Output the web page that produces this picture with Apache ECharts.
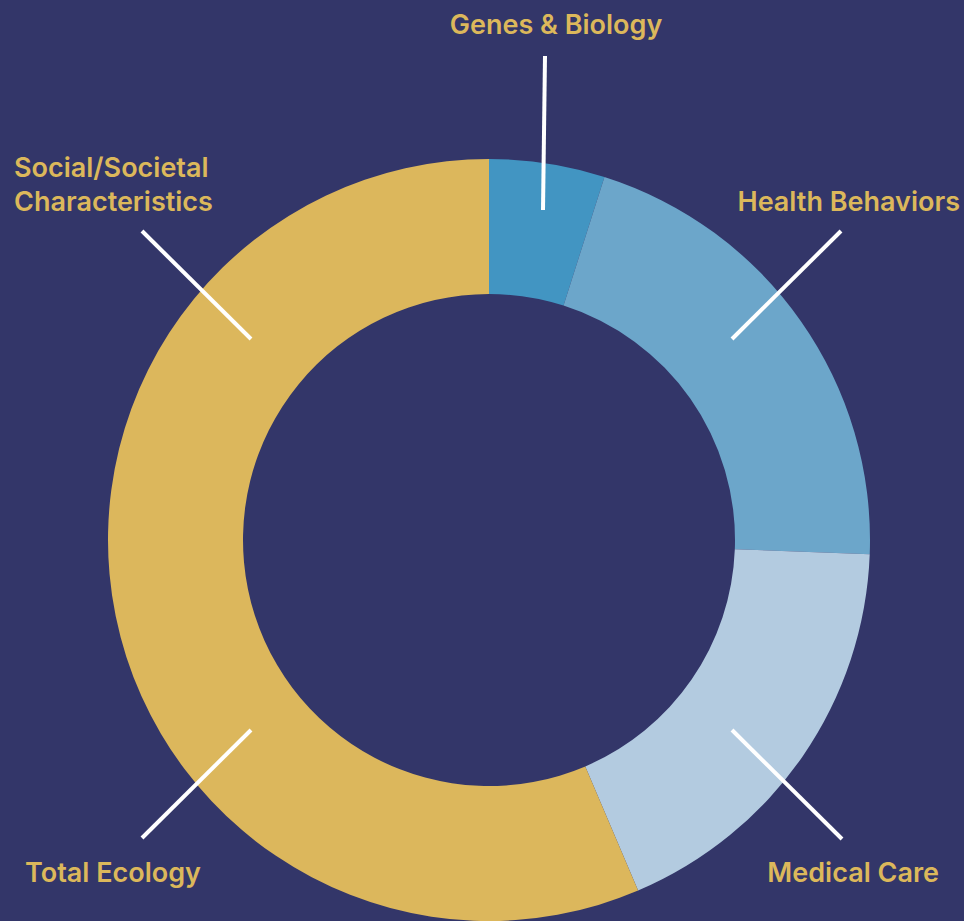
<!DOCTYPE html>
<html>
<head>
<meta charset="utf-8">
<script src="https://cdn.jsdelivr.net/npm/echarts@6/dist/echarts.min.js"></script>
<style>
  html, body { margin: 0; padding: 0; background: #333669; }
  #main { width: 964px; height: 921px; }
</style>
</head>
<body>
<div id="main"></div>
<script>
// slice data, clockwise from 12 o'clock
var categories = ['Genes & Biology', 'Health Behaviors', 'Medical Care', 'Total Ecology'];
var shares = [4.9, 20.7, 18.0, 56.4];
var sliceColors = ['#4295c2', '#6ca6ca', '#b3cbe0', '#dcb75c'];

// callout texts (two of them point at the gold slice)
var calloutTexts = ['Genes & Biology', 'Health Behaviors', 'Medical Care', 'Total Ecology', 'Social/Societal\nCharacteristics'];

// where each callout sits: text anchor (first line) + leader line
var calloutLayout = [
    { x: 556, y: 24,  align: 'center', line: [545, 56, 543, 210] },
    { x: 960, y: 201, align: 'right',  line: [841, 231, 732, 339] },
    { x: 939, y: 872, align: 'right',  line: [732, 730, 842, 839] },
    { x: 25,  y: 872, align: 'left',   line: [251, 730, 142, 838] },
    { x: 14,  y: 167, align: 'left',   line: [142, 231, 251, 339] }
];
var lineGap = 34;

var chart = echarts.init(document.getElementById('main'), null, { renderer: 'svg' });

var pieData = categories.map(function (name, i) {
    return { name: name, value: shares[i], itemStyle: { color: sliceColors[i] } };
});

var graphics = [];
calloutTexts.forEach(function (txt, i) {
    var lay = calloutLayout[i];
    graphics.push({
        type: 'line',
        silent: true,
        z: 100,
        shape: { x1: lay.line[0], y1: lay.line[1], x2: lay.line[2], y2: lay.line[3] },
        style: { stroke: '#ffffff', lineWidth: 4 }
    });
    // one text element per line so the rows don't stack boxes
    txt.split('\n').forEach(function (row, r) {
        graphics.push({
            type: 'text',
            silent: true,
            z: 100,
            x: lay.x,
            y: lay.y + r * lineGap,
            style: {
                text: row,
                fill: '#dcb85b',
                font: '600 27px Inter',
                align: lay.align,
                verticalAlign: 'middle'
            }
        });
    });
});

var option = {
    backgroundColor: '#333669',
    animation: false,
    series: [
        {
            type: 'pie',
            z: 1,
            center: [489, 540],
            radius: [246, 381],
            startAngle: 90,
            clockwise: true,
            silent: true,
            label: { show: false },
            labelLine: { show: false },
            itemStyle: { borderWidth: 0 },
            data: pieData
        }
    ],
    graphic: graphics
};

chart.setOption(option);
</script>
</body>
</html>
